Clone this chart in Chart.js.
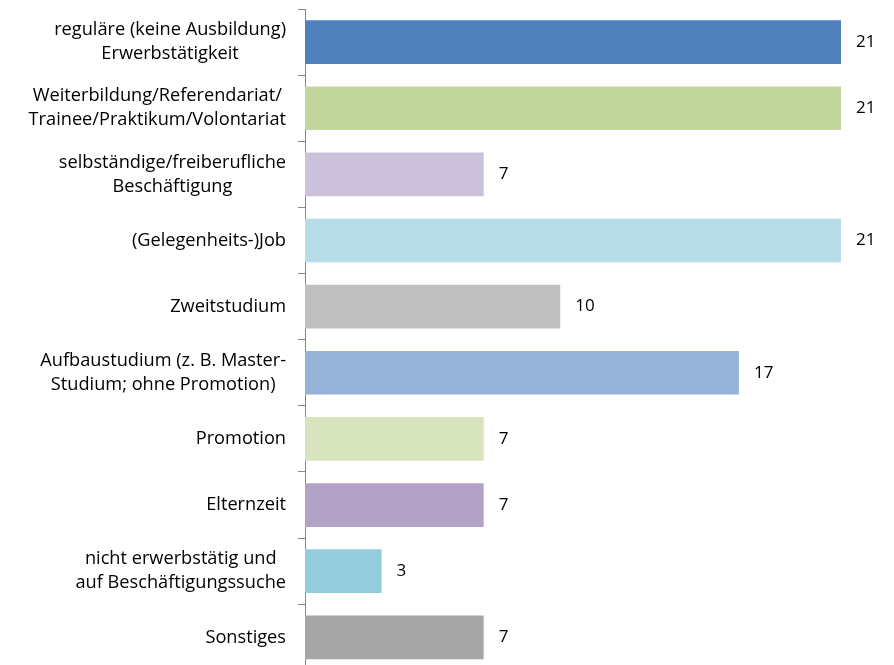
<!DOCTYPE html>
<html>
<head>
<meta charset="utf-8">
<script src="https://cdn.jsdelivr.net/npm/chart.js@4/dist/chart.umd.min.js"></script>
<style>
  html, body { margin:0; padding:0; background:#fff; overflow:hidden; }
  canvas { display:block; }
</style>
</head>
<body>
<canvas id="chart" width="894" height="674"></canvas>
<script>
// data
const categories = [
  ['reguläre (keine Ausbildung)', 'Erwerbstätigkeit'],
  ['Weiterbildung/Referendariat/', 'Trainee/Praktikum/Volontariat'],
  ['selbständige/freiberufliche', 'Beschäftigung'],
  ['(Gelegenheits-)Job'],
  ['Zweitstudium'],
  ['Aufbaustudium (z. B. Master-', 'Studium; ohne Promotion)'],
  ['Promotion'],
  ['Elternzeit'],
  ['nicht erwerbstätig und ', 'auf Beschäftigungssuche'],
  ['Sonstiges']
];
const values = [21, 21, 7, 21, 10, 17, 7, 7, 3, 7];
const barColors = ['#4F81BD', '#C3D69B', '#CCC1DA', '#B7DDE8', '#BFBFBF',
                   '#95B3D7', '#D7E4BD', '#B3A2C7', '#93CDDD', '#A6A6A6'];

const FONT = '"Open Sans", "Liberation Sans", sans-serif';
const FONT_SIZE = 18.2;
const LINE_H = 24;

// category labels: block right-aligned to the axis, lines centred inside the block
const catLabels = {
  id: 'catLabels',
  afterDraw(chart){
    const ctx = chart.ctx;
    const y = chart.scales.y;
    ctx.save();
    ctx.font = FONT_SIZE + 'px ' + FONT;
    ctx.fillStyle = '#000';
    ctx.textBaseline = 'middle';
    ctx.textAlign = 'center';
    categories.forEach((lines, i) => {
      const cy = y.getPixelForValue(i);
      const w = Math.max(...lines.map(l => ctx.measureText(l.trim()).width));
      const cx = 286 - w / 2;
      const top = cy - (lines.length - 1) * LINE_H / 2;
      lines.forEach((l, j) => ctx.fillText(l.trim(), cx, top + j * LINE_H));
    });
    ctx.restore();
  }
};

// value labels next to bars
const valueLabels = {
  id: 'valueLabels',
  afterDatasetsDraw(chart){
    const ctx = chart.ctx;
    const meta = chart.getDatasetMeta(0);
    ctx.save();
    ctx.font = '17px ' + FONT;
    ctx.fillStyle = '#000';
    ctx.textBaseline = 'middle';
    ctx.textAlign = 'left';
    meta.data.forEach((bar, i) => {
      ctx.fillText(String(values[i]), bar.x + 15, bar.y);
    });
    ctx.restore();
  }
};

new Chart(document.getElementById('chart').getContext('2d'), {
  type: 'bar',
  data: {
    labels: categories,
    datasets: [{
      data: values,
      backgroundColor: barColors,
      borderWidth: 0,
      categoryPercentage: 1,
      barPercentage: 0.66
    }]
  },
  plugins: [catLabels, valueLabels],
  options: {
    indexAxis: 'y',
    responsive: false,
    animation: false,
    layout: { padding: { top: 9, right: 53, bottom: 0, left: 0 } },
    plugins: { legend: { display: false }, tooltip: { enabled: false } },
    scales: {
      x: { display: false, min: 0, max: 21 },
      y: {
        afterFit(s){ s.width = 305; },
        border: { display: true, color: '#868686', width: 1 },
        grid: { drawOnChartArea: false, tickLength: 7, color: '#868686', offset: true },
        ticks: { callback: () => '', font: { size: 1 } }
      }
    }
  }
});
</script>
</body>
</html>
